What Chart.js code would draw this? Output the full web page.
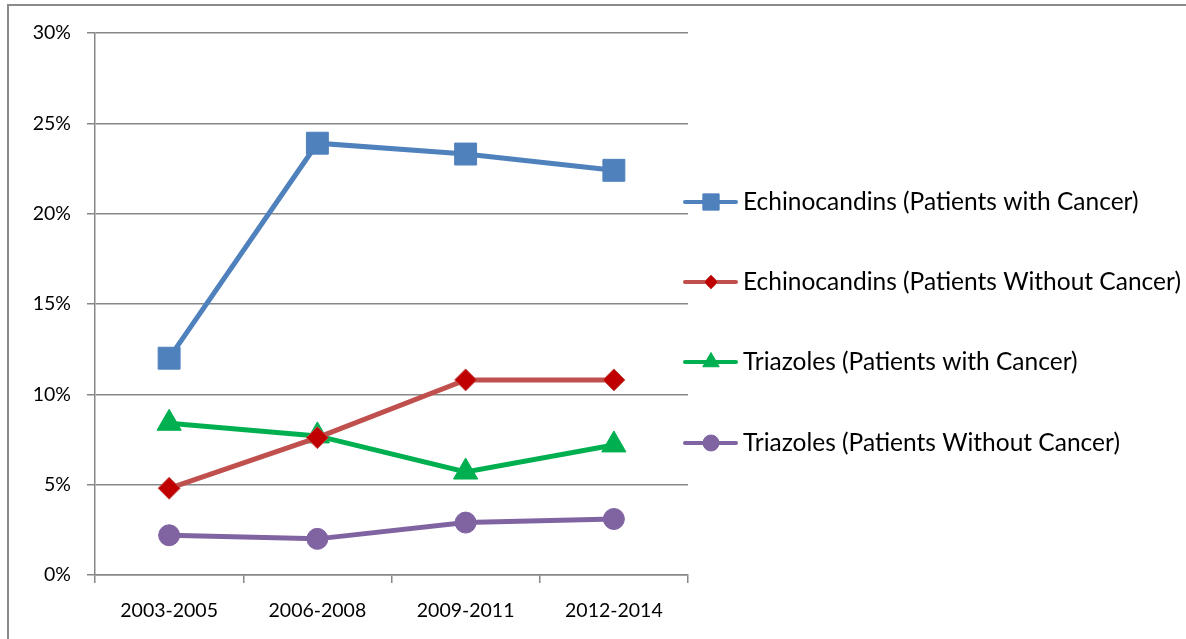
<!DOCTYPE html>
<html>
<head>
<meta charset="utf-8">
<script src="https://cdn.jsdelivr.net/npm/chart.js@4/dist/chart.umd.min.js"></script>
<style>
html, body { margin: 0; padding: 0; background: #fff; }
#wrap { position: relative; width: 1186px; height: 639px; overflow: hidden; }
#frame { position: absolute; left: 7px; top: 4px; width: 1300px; height: 700px;
  border-left: 2px solid #8a8a8a; border-top: 2px solid #8a8a8a; }
canvas { position: absolute; left: 0; top: 0; }
</style>
</head>
<body>
<div id="wrap">
<div id="frame"></div>
<canvas id="myChart" width="1186" height="639"></canvas>
</div>
<script>
// categories and series (percent)
var periods = ["2003-2005", "2006-2008", "2009-2011", "2012-2014"];
var echinoCancer = [12.0, 23.9, 23.3, 22.4];
var echinoNoCancer = [4.8, 7.6, 10.8, 10.8];
var triazCancer = [8.4, 7.7, 5.7, 7.2];
var triazNoCancer = [2.2, 2.0, 2.9, 3.1];
var seriesNames = [
  "Echinocandins (Patients with Cancer)",
  "Echinocandins (Patients Without Cancer)",
  "Triazoles (Patients with Cancer)",
  "Triazoles (Patients Without Cancer)"
];
var yTicks = [0, 5, 10, 15, 20, 25, 30];

var FONT = "Lato, 'Open Sans', sans-serif";
var gridColor = "#878787";

function drawMarker(ctx, style, x, y, r, fill, stroke) {
  ctx.save();
  ctx.fillStyle = fill;
  ctx.strokeStyle = stroke;
  ctx.lineWidth = 1;
  ctx.beginPath();
  if (style === "rect") {
    var s = r * Math.SQRT1_2;
    ctx.rect(x - s, y - s, 2 * s, 2 * s);
  } else if (style === "rectRot") {
    ctx.moveTo(x, y - r); ctx.lineTo(x + r, y); ctx.lineTo(x, y + r); ctx.lineTo(x - r, y);
    ctx.closePath();
  } else if (style === "triangle") {
    ctx.moveTo(x, y - r);
    ctx.lineTo(x + r * 0.866, y + r * 0.5);
    ctx.lineTo(x - r * 0.866, y + r * 0.5);
    ctx.closePath();
  } else {
    ctx.arc(x, y, r, 0, Math.PI * 2);
  }
  ctx.fill();
  ctx.stroke();
  ctx.restore();
}

// legend drawn at the right, line + marker like the original
var sideLegend = {
  id: "sideLegend",
  afterDraw: function(chart) {
    var ctx = chart.ctx;
    var x0 = chart.chartArea.right - 5;
    var rows = [202, 282, 362, 443];
    chart.data.datasets.forEach(function(ds, i) {
      var y = rows[i];
      ctx.save();
      ctx.strokeStyle = ds.borderColor;
      ctx.lineWidth = 4;
      ctx.lineCap = "round";
      ctx.beginPath();
      ctx.moveTo(x0 + 2, y);
      ctx.lineTo(x0 + 53, y);
      ctx.stroke();
      ctx.restore();
      var r = ds.pointStyle === "rect" ? 11.5 : (ds.pointStyle === "triangle" ? 9.5 : (ds.pointStyle === "circle" ? 8 : 7));
      drawMarker(ctx, ds.pointStyle, x0 + 28, y, r, ds.pointBackgroundColor, ds.pointBorderColor);
      ctx.save();
      ctx.fillStyle = "#000";
      ctx.font = "24.5px " + FONT;
      ctx.textBaseline = "middle";
      ctx.fillText(ds.label, x0 + 60, y);
      ctx.restore();
    });
  }
};

function mkSet(label, data, color, style, radius, fill, border) {
  return {
    label: label,
    data: data,
    borderColor: color,
    backgroundColor: color,
    borderWidth: 5,
    pointStyle: style,
    pointRadius: radius,
    pointHoverRadius: radius,
    pointBackgroundColor: fill || color,
    pointBorderColor: border || fill || color,
    pointBorderWidth: 1,
    tension: 0,
    fill: false
  };
}

const ctx = document.getElementById("myChart").getContext("2d");
const myChart = new Chart(ctx, {
  type: "line",
  data: {
    labels: periods,
    datasets: [
      mkSet(seriesNames[0], echinoCancer, "#4F81BD", "rect", 15.5),
      mkSet(seriesNames[1], echinoNoCancer, "#C0504D", "rectRot", 11, "#C00000", "#C0504D"),
      mkSet(seriesNames[2], triazCancer, "#00B050", "triangle", 14),
      mkSet(seriesNames[3], triazNoCancer, "#8064A2", "circle", 10.5)
    ]
  },
  options: {
    responsive: false,
    animation: false,
    layout: { padding: { left: 0, top: 33, right: 498, bottom: 0 } },
    plugins: {
      legend: { display: false },
      tooltip: { enabled: false }
    },
    scales: {
      x: {
        offset: true,
        grid: {
          offset: true,
          drawOnChartArea: false,
          color: gridColor,
          lineWidth: 1.5,
          tickLength: 8
        },
        border: { color: gridColor, width: 1.5 },
        ticks: { color: "#000", font: { family: FONT, size: 19.5 }, padding: 16, maxRotation: 0 },
        afterFit: function(s) { s.height = 64; }
      },
      y: {
        min: 0,
        max: 30,
        afterBuildTicks: function(s) { s.ticks = yTicks.map(function(v) { return { value: v }; }); },
        grid: { color: gridColor, lineWidth: 1.5, tickLength: 8 },
        border: { color: gridColor, width: 1.5 },
        ticks: {
          color: "#000",
          font: { family: FONT, size: 19.5 },
          padding: 16,
          callback: function(v) { return v + "%"; }
        },
        afterFit: function(s) { s.width = 95; }
      }
    }
  },
  plugins: [sideLegend]
});
</script>
</body>
</html>
